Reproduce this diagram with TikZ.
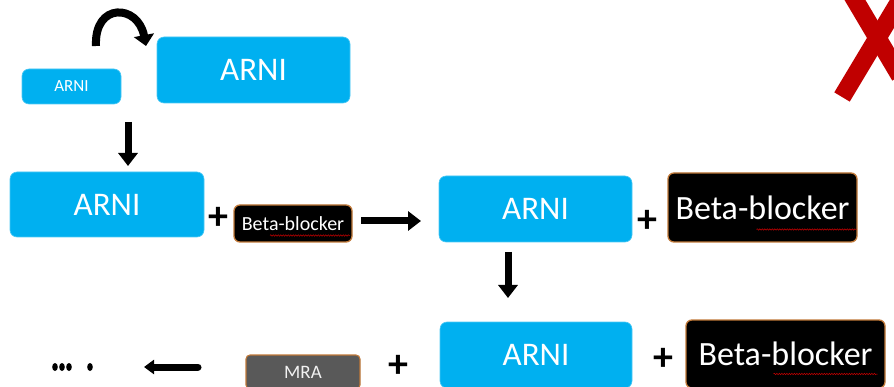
\documentclass[tikz,border=0pt]{standalone}
\usepackage{fontspec}
\setmainfont{Carlito}
\usetikzlibrary{arrows.meta,decorations.pathmorphing}
\definecolor{arnicyan}{HTML}{00B0F0}
\definecolor{bbborder}{HTML}{C07838}
\definecolor{mragray}{HTML}{595959}
\definecolor{xred}{HTML}{C00000}
\tikzset{
  arnibox/.style={fill=arnicyan, draw=arnicyan!70!white, line width=0.6pt, rounded corners=7pt, text=white, inner sep=0pt},
  bbbox/.style={fill=black, draw=bbborder, line width=1.3pt, rounded corners=6pt, text=white, inner sep=0pt},
  mrabox/.style={fill=mragray, draw=bbborder, line width=1.1pt, rounded corners=4pt, text=white!90!gray, inner sep=0pt},
  plus/.style={font=\bfseries\fontsize{40}{40}\selectfont, inner sep=0pt},
  blockarrow/.style={line width=7pt, -{Triangle[length=13pt,width=19pt]}},
  squig/.style={draw=red!80!black, line width=0.5pt, decorate, decoration={snake, amplitude=0.7pt, segment length=2.5pt}}
}
\begin{document}
\begin{tikzpicture}[x=1pt,y=-1pt]
\useasboundingbox (0,0) rectangle (894,387);
\clip (0,0) rectangle (894,387);
% red X
\draw[xred, line width=18pt] (852,-5) -- (900,76);
\draw[xred, line width=18pt] (842,97) -- (905,-8);
% boxes
\node[arnibox, minimum width=99pt, minimum height=35pt, font=\fontsize{17}{17}\selectfont] (a1) at (71.5,86.5) {ARNI};
\node[arnibox, minimum width=193pt, minimum height=66pt, font=\fontsize{33}{33}\selectfont] (a2) at (253.5,70) {ARNI};
\node[arnibox, minimum width=194pt, minimum height=65pt, font=\fontsize{33}{33}\selectfont] (a3) at (107,204.5) {ARNI};
\node[bbbox, minimum width=118pt, minimum height=37pt, font=\fontsize{20}{20}\selectfont] (bb1) at (293,223.5) {Beta-blocker};
\node[arnibox, minimum width=193pt, minimum height=66pt, font=\fontsize{33}{33}\selectfont] (a4) at (535.5,209) {ARNI};
\node[bbbox, minimum width=189pt, minimum height=69pt, font=\fontsize{34}{34}\selectfont] (bb2) at (762.5,207.5) {Beta-blocker};
\node[arnibox, minimum width=192pt, minimum height=66pt, font=\fontsize{33}{33}\selectfont] (a5) at (536,355) {ARNI};
\node[bbbox, minimum width=199pt, minimum height=68pt, font=\fontsize{34}{34}\selectfont] (bb3) at (785.5,354) {Beta-blocker};
\node[mrabox, minimum width=114pt, minimum height=34pt, font=\fontsize{19}{19}\selectfont] (mra) at (303,372) {MRA};
% plus signs
\node[plus] (p1) at (218,218) {+};
\node[plus] (p2) at (647,221) {+};
\node[plus] (p3) at (663,359) {+};
\node[plus] (p4) at (398,366) {+};
% squiggly underlines
\draw[squig] ([shift={(-23,12)}]bb1.center) -- ([shift={(57,12)}]bb1.center);
\draw[squig] ([shift={(-6,22)}]bb2.center) -- ([shift={(94,22)}]bb2.center);
\draw[squig] ([shift={(-12,20)}]bb3.center) -- ([shift={(92,20)}]bb3.center);
% connector coordinates
\coordinate (c1s) at (96,46);
\coordinate (c1e) at (146,46);
\coordinate (d1s) at (128,122);
\coordinate (d1e) at (128,166);
\coordinate (r1s) at (361,221);
\coordinate (r1e) at (421,221);
\coordinate (d2s) at (508,252);
\coordinate (d2e) at (508,298);
\coordinate (l1s) at (198,367);
\coordinate (l1e) at (144,367);
% arrows
\draw[line width=8pt, -{Triangle[length=11pt,width=20pt]}] (c1s) .. controls (94,2) and (138,4) .. (c1e);
\draw[blockarrow] (d1s) -- (d1e);
\draw[blockarrow] (r1s) -- (r1e);
\draw[blockarrow] (d2s) -- (d2e);
\draw[line width=7pt, line cap=round, -{Triangle[length=10pt,width=14pt]}] (l1s) -- (l1e);
% dots
\foreach \x in {55,62,69,90} \fill (\x,367) ellipse (2.8pt and 4pt);
\end{tikzpicture}
\end{document}
